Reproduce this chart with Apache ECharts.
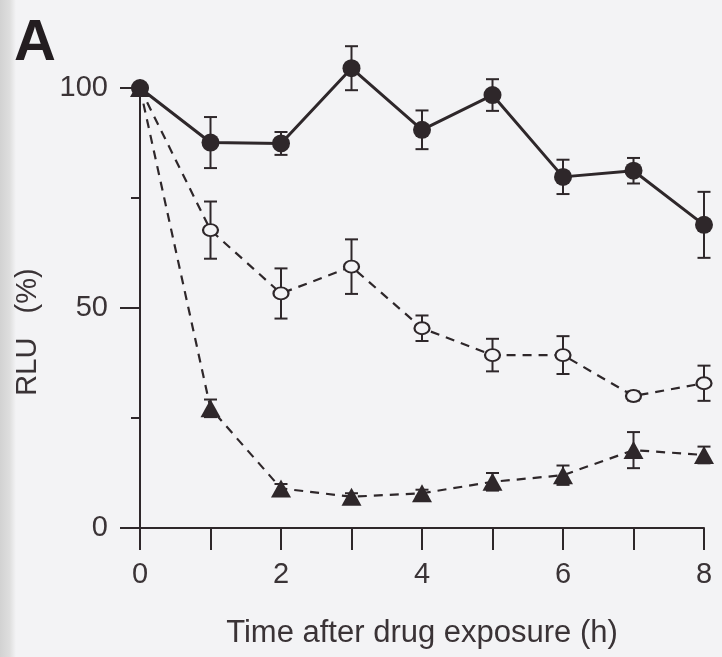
<!DOCTYPE html>
<html>
<head>
<meta charset="utf-8">
<script src="https://cdn.jsdelivr.net/npm/echarts@6/dist/echarts.min.js"></script>
<style>
html,body{margin:0;padding:0;background:#f3f3f5;}
#chart{width:722px;height:657px;}
</style>
</head>
<body>
<div id="chart"></div>
<script>
// Data
var hours = [0, 1, 2, 3, 4, 5, 6, 7, 8];
var xTickLabels = ['0', '', '2', '', '4', '', '6', '', '8'];
var filledMean = [100, 87.6, 87.4, 104.5, 90.5, 98.4, 79.8, 81.2, 68.9];
var filledErr  = [0, 5.8, 2.6, 5.0, 4.4, 3.6, 3.9, 2.9, 7.5];
var openMean   = [100, 67.7, 53.3, 59.4, 45.4, 39.3, 39.3, 30.0, 32.9];
var openErr    = [0, 6.5, 5.7, 6.2, 2.9, 3.7, 4.3, 1.0, 4.0];
var triMean    = [100, 27.2, 9.0, 7.1, 7.9, 10.5, 12.0, 17.7, 16.6];
var triErr     = [0, 2.0, 1.0, 0.8, 0.8, 2.0, 2.2, 4.1, 1.9];

var ink = '#2e272a';
var textInk = '#3a3336';
var bg = '#f3f3f5';

function pts(mean) { return hours.map(function (h, i) { return [h, mean[i]]; }); }
function errs(mean, err) {
  return hours.map(function (h, i) { return [h, mean[i] - err[i], mean[i] + err[i]]; })
    .filter(function (d) { return d[2] - d[1] > 0; });
}
function errSeries(mean, err) {
  return {
    type: 'custom',
    data: errs(mean, err),
    z: 2,
    clip: false,
    renderItem: function (params, api) {
      var lo = api.coord([api.value(0), api.value(1)]);
      var hi = api.coord([api.value(0), api.value(2)]);
      var w = 6.5;
      var st = { stroke: ink, lineWidth: 2 };
      return {
        type: 'group',
        children: [
          { type: 'line', shape: { x1: lo[0], y1: lo[1], x2: hi[0], y2: hi[1] }, style: st },
          { type: 'line', shape: { x1: lo[0] - w, y1: lo[1], x2: lo[0] + w, y2: lo[1] }, style: st },
          { type: 'line', shape: { x1: hi[0] - w, y1: hi[1], x2: hi[0] + w, y2: hi[1] }, style: st }
        ]
      };
    }
  };
}

var chart = echarts.init(document.getElementById('chart'), null, { renderer: 'canvas' });
chart.setOption({
  backgroundColor: bg,
  animation: false,
  textStyle: { fontFamily: 'Liberation Sans' },
  grid: { left: 140, right: 18, top: 88, bottom: 129 },
  graphic: [
    {
      type: 'rect', left: 0, top: 0, z: -10,
      shape: { width: 16, height: 657 },
      style: { fill: new echarts.graphic.LinearGradient(0, 0, 1, 0, [
        { offset: 0, color: '#d2d2d2' }, { offset: 0.6, color: '#dedede' }, { offset: 1, color: bg }]) }
    },
    {
      type: 'text', left: 14, top: 15,
      style: { text: 'A', font: 'bold 58px "Liberation Sans"', fill: '#231d20' }
    },
    {
      type: 'text', x: 28, y: 332, rotation: Math.PI / 2,
      style: { text: 'RLU   (%)', font: '29px "Liberation Sans"', fill: textInk,
        textAlign: 'center', textVerticalAlign: 'middle' }
    }
  ],
  xAxis: {
    type: 'value', min: 0, max: 8, interval: 1,
    name: 'Time after drug exposure (h)',
    nameLocation: 'middle', nameGap: 90,
    nameTextStyle: { fontSize: 31, color: textInk, fontFamily: 'Liberation Sans' },
    axisLine: { lineStyle: { color: ink, width: 2 } },
    axisTick: { show: true, length: 22, lineStyle: { color: ink, width: 2 } },
    axisLabel: { fontSize: 29, color: textInk, margin: 32,
      formatter: function (v) { return xTickLabels[Math.round(v)] || ''; } },
    splitLine: { show: false }
  },
  yAxis: {
    type: 'value', min: 0, max: 100, interval: 50,
    axisLine: { show: true, lineStyle: { color: ink, width: 2 } },
    axisTick: { show: true, length: 20, lineStyle: { color: ink, width: 2 } },
    minorTick: { show: true, splitNumber: 2, length: 9, lineStyle: { color: ink, width: 2 } },
    axisLabel: { fontSize: 29, color: textInk, margin: 32 },
    splitLine: { show: false }
  },
  series: [
    errSeries(triMean, triErr),
    errSeries(openMean, openErr),
    errSeries(filledMean, filledErr),
    {
      type: 'line', data: pts(triMean), z: 3, clip: false,
      symbol: 'triangle', symbolSize: [20, 18],
      lineStyle: { color: ink, width: 2.2, type: [9, 7] },
      itemStyle: { color: ink }
    },
    {
      type: 'line', data: pts(openMean), z: 4, clip: false,
      symbol: 'circle', symbolSize: [15, 12],
      lineStyle: { color: ink, width: 2.2, type: [9, 7] },
      itemStyle: { color: bg, borderColor: ink, borderWidth: 2 }
    },
    {
      type: 'line', data: pts(filledMean), z: 5, clip: false,
      symbol: 'circle', symbolSize: 18,
      lineStyle: { color: ink, width: 3 },
      itemStyle: { color: ink }
    }
  ]
});
</script>
</body>
</html>
